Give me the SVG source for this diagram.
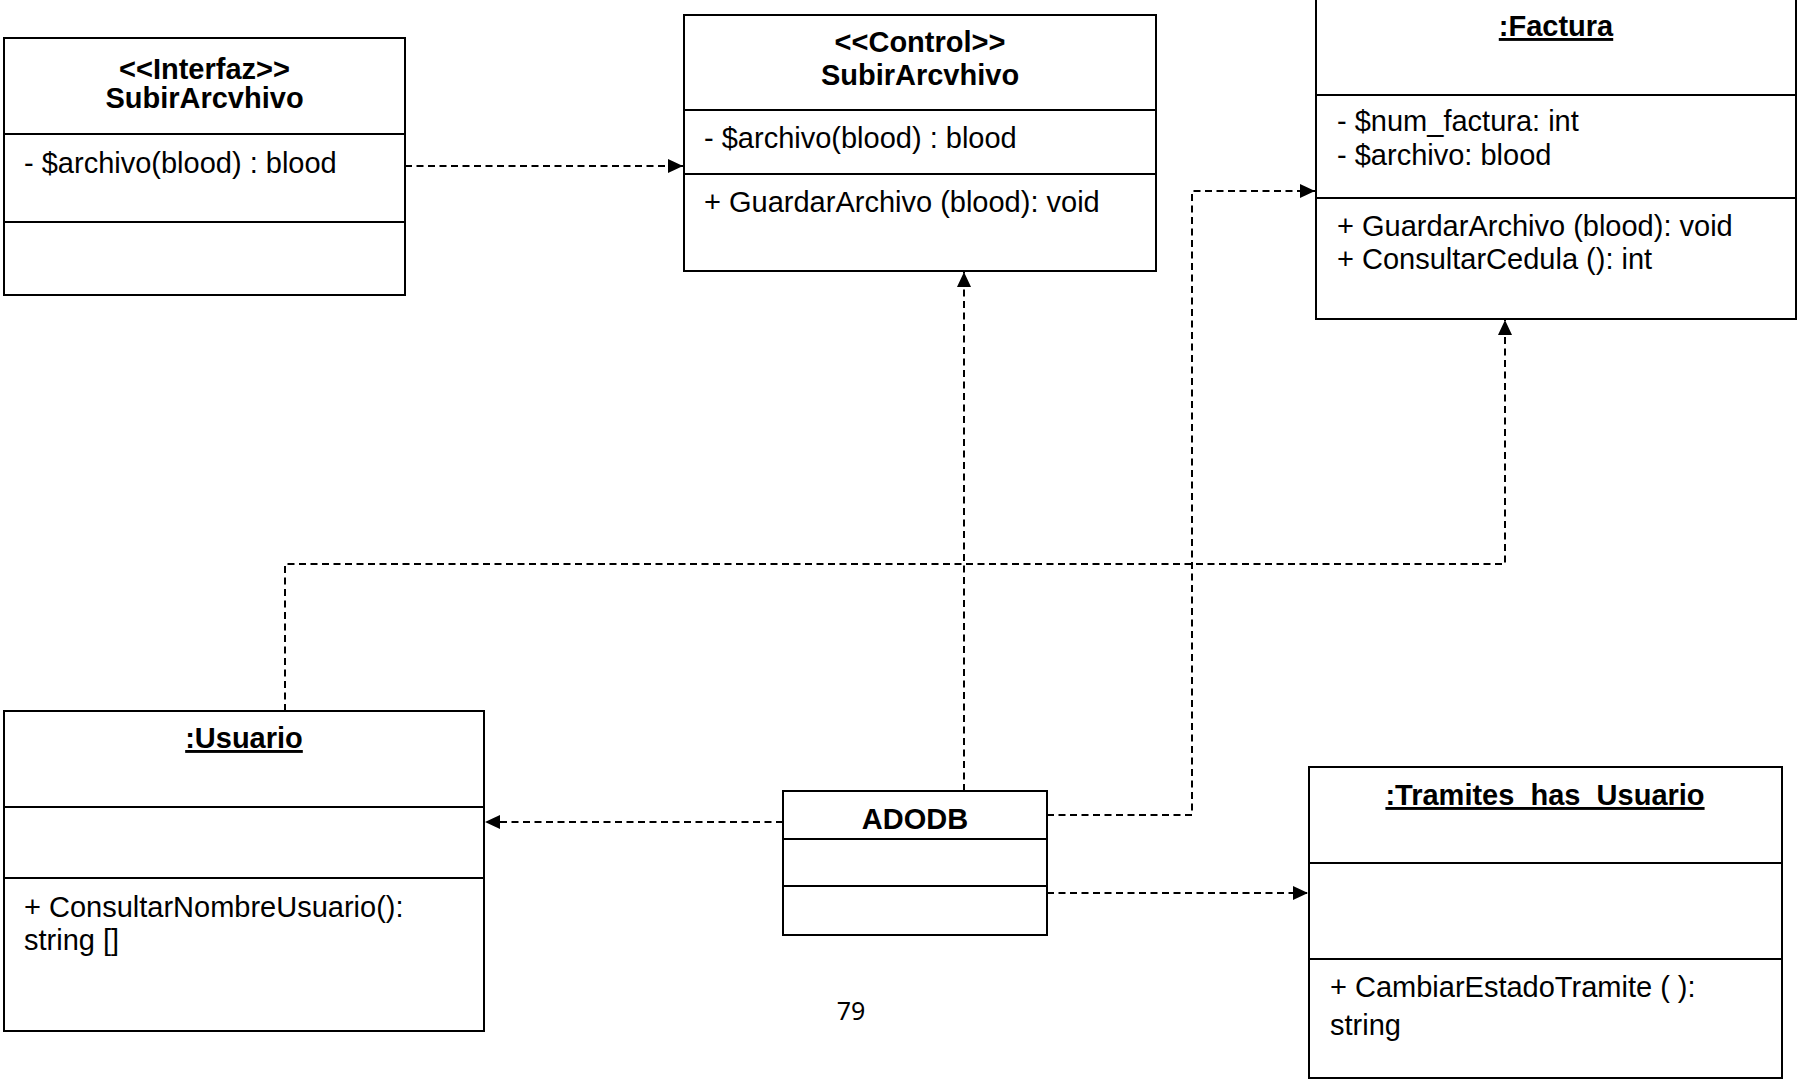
<svg xmlns="http://www.w3.org/2000/svg" width="1798" height="1080" viewBox="0 0 1798 1080">
  <style>
    .box { fill: #fff; stroke: #000; stroke-width: 2; }
    .sep { stroke: #000; stroke-width: 2; }
    .t { font-family: "Liberation Sans", Arial, sans-serif; font-size: 29px; fill: #000; }
    .b { font-weight: bold; text-anchor: middle; }
    .u { text-decoration: underline; }
    .dep { fill: none; stroke: #000; stroke-width: 2; stroke-dasharray: 7 4.5; marker-end: url(#arrow); }
    .page { font-family: "Noto Sans", "Open Sans", sans-serif; font-size: 25px; fill: #000; text-anchor: middle; }
  </style>
  <defs>
    <marker id="arrow" markerUnits="userSpaceOnUse" markerWidth="16" markerHeight="16" refX="15" refY="7" orient="auto">
      <path d="M0,0 L15,7 L0,14 Z" fill="#000"/>
    </marker>
  </defs>
  <rect width="1798" height="1080" fill="#fff"/>

  <!-- dependency connectors -->
  <g id="connectors">
    <path class="dep" d="M405,166 H683"/>
    <path class="dep" d="M964,791 V272"/>
    <path class="dep" d="M1047,815 H1192 V191 H1315"/>
    <path class="dep" d="M285,711 V564 H1505 V320"/>
    <path class="dep" d="M783,822 H485"/>
    <path class="dep" d="M1047,893 H1308"/>
  </g>

  <g id="interfaz-subirarchivo">
    <rect class="box" x="4" y="38" width="401" height="257"/>
    <line class="sep" x1="4" y1="134" x2="405" y2="134"/>
    <line class="sep" x1="4" y1="222" x2="405" y2="222"/>
    <text class="t b" x="204.5" y="79">&lt;&lt;Interfaz&gt;&gt;</text>
    <text class="t b" x="204.5" y="108">SubirArcvhivo</text>
    <text class="t" x="24" y="173">- $archivo(blood) : blood</text>
  </g>

  <g id="control-subirarchivo">
    <rect class="box" x="684" y="15" width="472" height="256"/>
    <line class="sep" x1="684" y1="110" x2="1156" y2="110"/>
    <line class="sep" x1="684" y1="174" x2="1156" y2="174"/>
    <text class="t b" x="920" y="52">&lt;&lt;Control&gt;&gt;</text>
    <text class="t b" x="920" y="85">SubirArcvhivo</text>
    <text class="t" x="704" y="148">- $archivo(blood) : blood</text>
    <text class="t" x="704" y="212">+ GuardarArchivo (blood): void</text>
  </g>

  <g id="factura">
    <rect class="box" x="1316" y="-5" width="480" height="324"/>
    <line class="sep" x1="1316" y1="95" x2="1796" y2="95"/>
    <line class="sep" x1="1316" y1="198" x2="1796" y2="198"/>
    <text class="t b u" x="1556" y="36">:Factura</text>
    <text class="t" x="1337" y="131">- $num_factura: int</text>
    <text class="t" x="1337" y="165">- $archivo: blood</text>
    <text class="t" x="1337" y="236">+ GuardarArchivo (blood): void</text>
    <text class="t" x="1337" y="269">+ ConsultarCedula (): int</text>
  </g>

  <g id="usuario">
    <rect class="box" x="4" y="711" width="480" height="320"/>
    <line class="sep" x1="4" y1="807" x2="484" y2="807"/>
    <line class="sep" x1="4" y1="878" x2="484" y2="878"/>
    <text class="t b u" x="244" y="748">:Usuario</text>
    <text class="t" x="24" y="917">+ ConsultarNombreUsuario():</text>
    <text class="t" x="24" y="950">string []</text>
  </g>

  <g id="adodb">
    <rect class="box" x="783" y="791" width="264" height="144"/>
    <line class="sep" x1="783" y1="839" x2="1047" y2="839"/>
    <line class="sep" x1="783" y1="886" x2="1047" y2="886"/>
    <text class="t b" x="915" y="829">ADODB</text>
  </g>

  <g id="tramites-has-usuario">
    <rect class="box" x="1309" y="767" width="473" height="311"/>
    <line class="sep" x1="1309" y1="863" x2="1782" y2="863"/>
    <line class="sep" x1="1309" y1="959" x2="1782" y2="959"/>
    <text class="t b u" x="1545" y="805">:Tramites_has_Usuario</text>
    <text class="t" x="1330" y="997">+ CambiarEstadoTramite ( ):</text>
    <text class="t" x="1330" y="1035">string</text>
  </g>

  <text class="page" x="851" y="1020">79</text>
</svg>
